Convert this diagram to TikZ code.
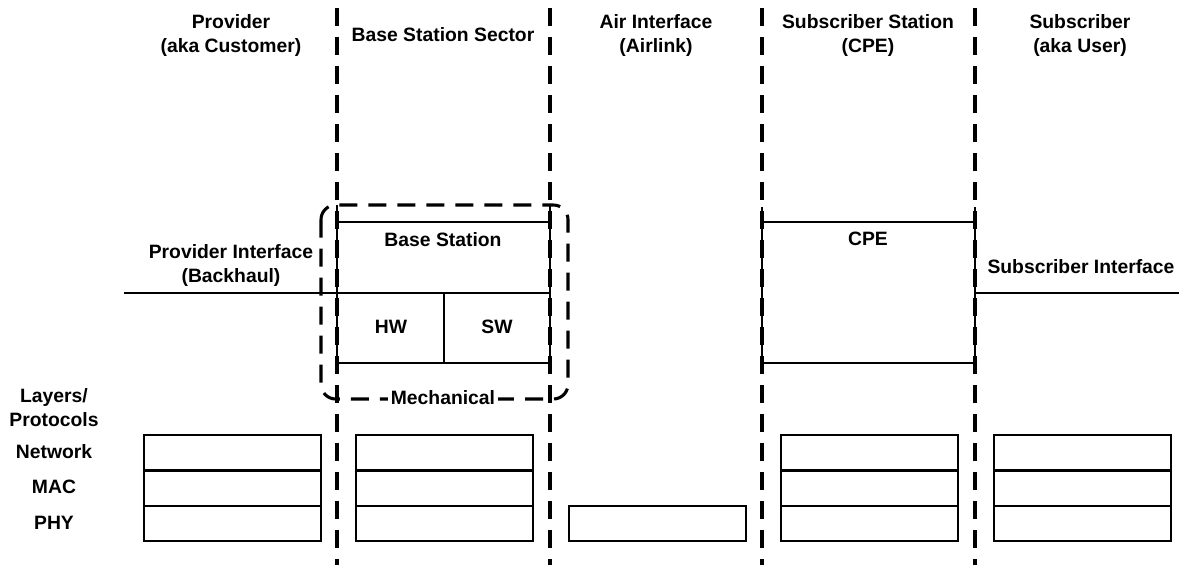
\documentclass[tikz,border=0pt]{standalone}
\usepackage{fontspec}
\setmainfont{Liberation Sans}
\begin{document}
\begin{tikzpicture}[x=0.75pt,y=-0.75pt,
  lbl/.style={font=\bfseries\fontsize{14.5}{18}\selectfont, align=center, inner sep=0pt},
  solidline/.style={line width=1.5pt},
  dashline/.style={line width=2.3pt, dash pattern=on 13.5pt off 8.25pt},
  layerrow/.style={draw, line width=1.5pt, minimum width=132.75pt, minimum height=26.6pt, inner sep=0pt, anchor=north west}]
\useasboundingbox (0,0) rectangle (1179,565);

% column separators
\foreach \x/\n in {337/a,550/b,762/c,975/d}{
  \coordinate (top\n) at (\x,8);
  \coordinate (bot\n) at (\x,565);
  \draw[dashline] (top\n) -- (bot\n);
}

% headers
\node[lbl] (hprov) at (231,35) {Provider\\(aka Customer)};
\node[lbl] (hbss) at (443,35) {Base Station Sector};
\node[lbl] (hair) at (656,35) {Air Interface\\(Airlink)};
\node[lbl] (hss) at (868,35) {Subscriber Station\\(CPE)};
\node[lbl] (hsub) at (1080,35) {Subscriber\\(aka User)};

% mechanical enclosure
\draw[dashline, rounded corners=11pt] (321,205) rectangle (568,399);
\node[lbl, fill=white, inner sep=2pt] (mech) at (443,398) {Mechanical};

% base station
\coordinate (bsTL) at (337,205); \coordinate (bsTR) at (550,205);
\coordinate (bsBL) at (337,363); \coordinate (bsBR) at (550,363);
\coordinate (bsT1) at (337,222); \coordinate (bsT2) at (550,222);
\coordinate (bsM1) at (337,293); \coordinate (bsM2) at (550,293);
\coordinate (bsD1) at (444,293); \coordinate (bsD2) at (444,363);
\draw[solidline] (bsTL) -- (bsBL) -- (bsBR) -- (bsTR);
\draw[solidline] (bsT1) -- (bsT2);
\draw[solidline] (bsM1) -- (bsM2);
\draw[solidline] (bsD1) -- (bsD2);
\node[lbl] (bs) at (443,240) {Base Station};
\node[lbl] (hw) at (391,327) {HW};
\node[lbl] (sw) at (497,327) {SW};

% provider interface
\coordinate (piL) at (124,293);
\draw[solidline] (piL) -- (bsM1);
\node[lbl] (pi) at (231,265) {Provider Interface\\(Backhaul)};

% CPE
\coordinate (cpTL) at (762,207); \coordinate (cpTR) at (975,207);
\coordinate (cpBL) at (762,363); \coordinate (cpBR) at (975,363);
\coordinate (cpT1) at (762,222); \coordinate (cpT2) at (975,222);
\draw[solidline] (cpTL) -- (cpBL) -- (cpBR) -- (cpTR);
\draw[solidline] (cpT1) -- (cpT2);
\node[lbl] (cpe) at (868,239) {CPE};

% subscriber interface
\coordinate (siL) at (975,293); \coordinate (siR) at (1179,293);
\draw[solidline] (siL) -- (siR);
\node[lbl] (si) at (1081,267) {Subscriber Interface};

% layer labels
\node[lbl] (layers) at (54,408) {Layers/\\Protocols};
\node[lbl] (lnet) at (54,452) {Network};
\node[lbl] (lmac) at (54,487) {MAC};
\node[lbl] (lphy) at (54,523) {PHY};

% layer stacks
\foreach \x/\n in {143/p,355/b,780/c,993/s}{
  \node[layerrow] (\n net) at (\x,434) {};
  \node[layerrow] (\n mac) at (\x,469.5) {};
  \node[layerrow] (\n phy) at (\x,505) {};
}
\node[layerrow] (aphy) at (568,505) {};
\end{tikzpicture}
\end{document}
